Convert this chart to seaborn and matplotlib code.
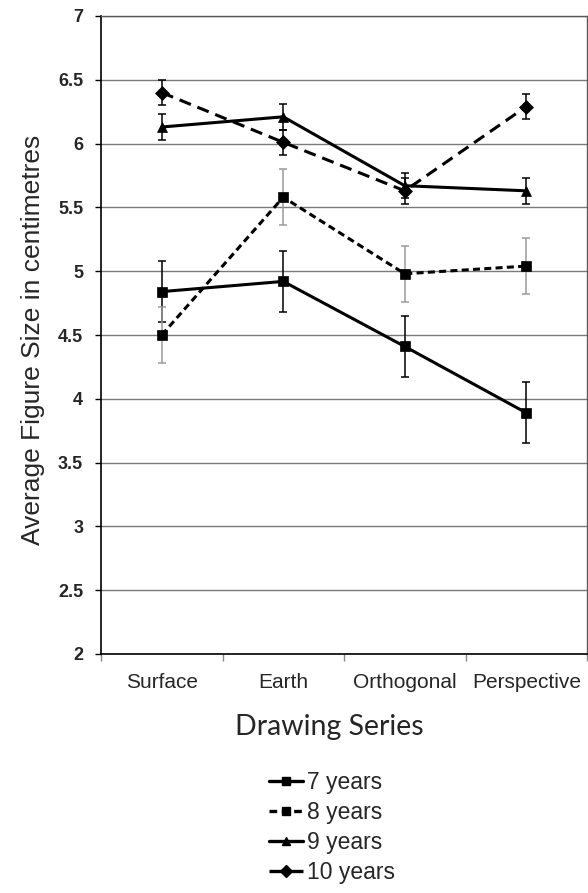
import matplotlib
matplotlib.use("Agg")
import matplotlib.pyplot as plt
import matplotlib.ticker as mticker
import numpy as np
import pandas as pd
import seaborn as sns

# ---- data ----
series = ["Surface", "Earth", "Orthogonal", "Perspective"]
groups = ["7 years", "8 years", "9 years", "10 years"]
vals_7 = [4.84, 4.92, 4.41, 3.89]
vals_8 = [4.50, 5.58, 4.98, 5.04]
vals_9 = [6.13, 6.21, 5.67, 5.63]
vals_10 = [6.40, 6.01, 5.63, 6.29]
err_7 = [0.24, 0.24, 0.24, 0.24]
err_8 = [0.22, 0.22, 0.22, 0.22]
err_9 = [0.10, 0.10, 0.10, 0.10]
err_10 = [0.10, 0.10, 0.10, 0.10]
yticks = [2, 2.5, 3, 3.5, 4, 4.5, 5, 5.5, 6, 6.5, 7]

all_vals = [vals_7, vals_8, vals_9, vals_10]
all_errs = [err_7, err_8, err_9, err_10]

df = pd.DataFrame({
    "series": series * 4,
    "size": sum(all_vals, []),
    "err": sum(all_errs, []),
    "age": [g for g in groups for _ in series],
})

sns.set_style("white")
plt.rcParams["font.family"] = ["Liberation Sans", "DejaVu Sans"]

fig = plt.figure(figsize=(5.88, 8.93), dpi=100)
ax = fig.add_axes([101 / 588, 1 - 654 / 893, 486 / 588, 638 / 893])

markers = ["s", "s", "^", "D"]
linestyles = ["-", (0, (2.3, 1.4)), "-", (0, (4.0, 2.3))]
sns.pointplot(data=df, x="series", y="size", hue="age", order=series,
              hue_order=groups, palette=["black"] * 4, markers=markers,
              linestyles=linestyles, errorbar=None, dodge=False,
              linewidth=2.2, markersize=7, markeredgewidth=0.5, ax=ax,
              legend=False)

# error bars
ecolors = ["black", "#9a9a9a", "black", "black"]
for g, ec in zip(groups, ecolors):
    sub = df[df["age"] == g]
    xpos = [series.index(s) for s in sub["series"]]
    ax.errorbar(xpos, sub["size"], yerr=sub["err"], fmt="none", ecolor=ec,
                elinewidth=1.1, capsize=3, capthick=1.1, zorder=1.5)

ax.set_ylim(2, 7)
ax.set_xlim(-0.5, 3.5)
ax.set_yticks(yticks)
ax.yaxis.set_major_formatter(mticker.FuncFormatter(lambda v, p: f"{v:g}"))
ax.yaxis.grid(True, color="#7a7a7a", linewidth=1)
ax.set_axisbelow(True)
for lab in ax.get_yticklabels():
    lab.set_fontweight("bold")
ax.tick_params(axis="y", which="major", length=4.3, width=1, color="black",
               labelsize=13, pad=8.5, left=True)

# x: tick marks at category boundaries, labels centred
ax.set_xticks(np.arange(-0.5, 4.0, 1.0))
ax.set_xticklabels([])
ax.set_xticks(np.arange(0, 4), minor=True)
ax.set_xticklabels(series, minor=True)
ax.tick_params(axis="x", which="major", length=5, width=1, color="#888888",
               bottom=True)
ax.tick_params(axis="x", which="minor", length=0, labelsize=15, pad=14)

for side in ["left", "bottom"]:
    ax.spines[side].set_color("black")
    ax.spines[side].set_linewidth(1.2)
for side in ["top", "right"]:
    ax.spines[side].set_visible(True)
    ax.spines[side].set_color("#595959")
    ax.spines[side].set_linewidth(1)

ax.set_ylabel("Average Figure Size in centimetres", fontsize=19)
ax.yaxis.set_label_coords(-0.14, 0.492)
ax.yaxis.label.set_va("center")
ax.set_xlabel("Drawing Series", fontsize=20.5, family=["Lato", "DejaVu Sans"])
ax.xaxis.set_label_coords((329 - 101) / 486, (654 - 727) / 638)
ax.xaxis.label.set_va("center")

# legend
handles = [
    plt.Line2D([], [], color="black", marker=m, linestyle=ls, linewidth=2.4,
               markersize=6)
    for m, ls in zip(markers, linestyles)
]
fig.legend(handles, groups, loc="upper center",
           bbox_to_anchor=(332 / 588, 1 - 760 / 893), frameon=False,
           fontsize=16.5, handlelength=1.5, handletextpad=0.15,
           labelspacing=0.3, borderpad=0)

fig.savefig("out.png", dpi=100)
